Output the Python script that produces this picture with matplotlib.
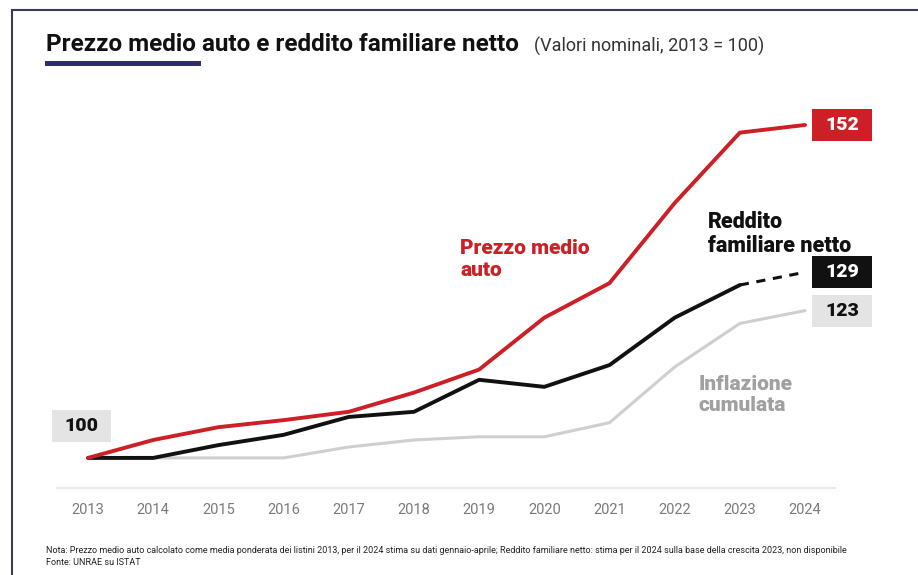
import matplotlib.pyplot as plt
from matplotlib.patches import Rectangle

plt.rcParams['font.family'] = ['Roboto', 'DejaVu Sans']

anni = list(range(2013, 2025))
prezzo_auto = [100, 102.8, 104.8, 105.9, 107.2, 110.2, 113.8, 121.9, 127.3, 139.8, 150.8, 152]
reddito = [100, 100, 102, 103.6, 106.4, 107.2, 112.2, 111.1, 114.5, 121.9, 127, 129]
inflazione = [100, 100, 100, 100, 101.7, 102.8, 103.3, 103.3, 105.5, 114.2, 121, 123]

ROSSO = '#cc1f26'
NERO = '#111111'
GRIGIO = '#cfcfcf'

fig = plt.figure(figsize=(9.18, 5.75), dpi=100)
fig.patch.set_facecolor('white')

# cornice sottile in alto e a sinistra
fig.add_artist(plt.Line2D([0.013, 1.0], [0.983, 0.983], color='#3b3b52', lw=1.5))
fig.add_artist(plt.Line2D([0.013, 0.013], [0.0, 0.983], color='#3b3b52', lw=1.5))

ax = fig.add_axes([0.0621, 0.1513, 0.8475, 0.6748])
ax.set_xlim(2012.524, 2024.46)
ax.set_ylim(95.3, 155.9)

ax.plot(anni, inflazione, color=GRIGIO, lw=2.2, solid_capstyle='round', zorder=2)
ax.plot(anni[:-1], reddito[:-1], color=NERO, lw=2.8, solid_capstyle='round', zorder=3)
ax.plot(anni[-2:], reddito[-2:], color=NERO, lw=2.2, ls=(0, (3, 2.5)), zorder=3)
ax.plot(anni, prezzo_auto, color=ROSSO, lw=2.8, solid_capstyle='round', zorder=4)

for s in ['top', 'right', 'left']:
    ax.spines[s].set_visible(False)
ax.spines['bottom'].set_color('#e8e8e8')
ax.spines['bottom'].set_linewidth(1.5)
ax.set_yticks([])
ax.set_xticks(anni)
ax.set_xticklabels([str(a) for a in anni], color='#7a7a7a', fontsize=10.5)
ax.tick_params(axis='x', length=0, pad=11)

# etichette con il valore finale
def etichetta(x, y, testo, fondo, colore):
    ax.text(x, y, testo, ha='center', va='center', fontsize=14, fontweight='black',
            color=colore, clip_on=False, zorder=6)
    w, h = 0.92, 5.0
    ax.add_patch(Rectangle((x - w / 2, y - h / 2), w, h, fc=fondo, ec='none',
                           clip_on=False, zorder=5))

etichetta(2024.57, prezzo_auto[-1], str(prezzo_auto[-1]), ROSSO, 'white')
etichetta(2024.57, reddito[-1], str(reddito[-1]), NERO, 'white')
etichetta(2024.57, inflazione[-1], str(inflazione[-1]), '#e4e4e4', NERO)
etichetta(2012.9, prezzo_auto[0] + 5, str(prezzo_auto[0]), '#e4e4e4', NERO)

ax.text(2018.71, 131.0, 'Prezzo medio\nauto', color=ROSSO, fontsize=15, fontweight='black',
        va='center', ha='left', linespacing=1.15)
ax.text(2022.51, 135.0, 'Reddito\nfamiliare netto', color=NERO, fontsize=15.5, fontweight='black',
        va='center', ha='left', linespacing=1.15)
ax.text(2022.36, 109.8, 'Inflazione\ncumulata', color='#a0a0a0', fontsize=15, fontweight='black',
        va='center', ha='left', linespacing=1.15)

# titolo
fig.text(0.050, 0.922, 'Prezzo medio auto e reddito familiare netto', fontsize=17.5,
         fontweight='bold', color='#111111', va='center')
fig.text(0.582, 0.920, '(Valori nominali, 2013 = 100)', fontsize=13, color='#333333', va='center')
fig.add_artist(Rectangle((0.049, 0.886), 0.170, 0.0075, transform=fig.transFigure,
                         fc='#2e2f66', ec='none'))

fig.text(0.050, 0.043, 'Nota: Prezzo medio auto calcolato come media ponderata dei listini 2013, per il 2024 stima su dati gennaio-aprile; '
         'Reddito familiare netto: stima per il 2024 sulla base della crescita 2023, non disponibile',
         fontsize=6.5, color='#222222', va='center')
fig.text(0.050, 0.022, 'Fonte: UNRAE su ISTAT', fontsize=6.5, color='#222222', va='center')

fig.savefig('out.png', dpi=100, facecolor='white')
